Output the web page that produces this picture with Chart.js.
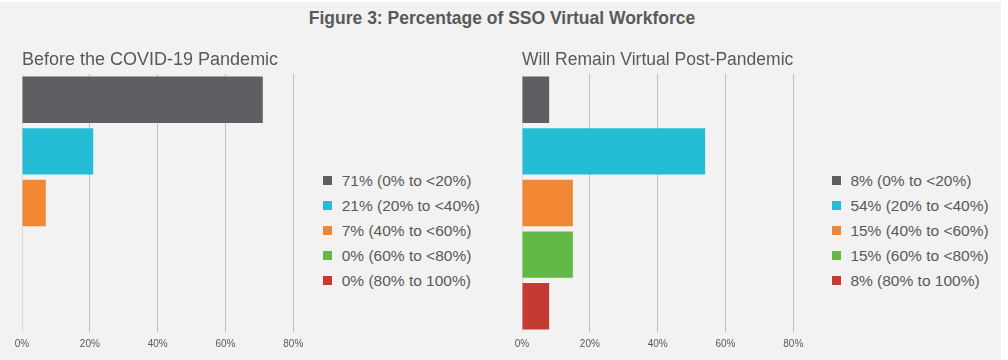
<!DOCTYPE html>
<html>
<head>
<meta charset="utf-8">
<script src="https://cdn.jsdelivr.net/npm/chart.js@4"></script>
<style>
  body { margin: 0; background: #fff; font-family: "Liberation Sans", Arial, sans-serif; }
  #frame { position: absolute; left: 0; top: 2px; width: 1001px; height: 358px; background: #f2f2f2; }
  #title { position: absolute; left: 0; top: 7.5px; width: 1004px; text-align: center; font-weight: bold; font-size: 17.5px; line-height: 20px; color: #595959; }
  canvas { position: absolute; top: 0; }
  .legend { position: absolute; color: #595959; font-size: 15.5px; }
  .legend div { position: relative; height: 25px; line-height: 25px; padding-left: 18.7px; white-space: nowrap; }
  .legend span { position: absolute; left: 0; top: 7.8px; width: 9px; height: 9px; }
</style>
</head>
<body>
<div id="frame"></div>
<div id="title">Figure 3: Percentage of SSO Virtual Workforce</div>
<canvas id="before" width="310" height="360" style="left:0"></canvas>
<canvas id="after" width="310" height="360" style="left:500px"></canvas>
<div class="legend" id="legendBefore" style="left:323px; top:168.4px"></div>
<div class="legend" id="legendAfter" style="left:831.7px; top:168.4px"></div>
<script>
const categories = ['0% to <20%', '20% to <40%', '40% to <60%', '60% to <80%', '80% to 100%'];
const beforeValues = [0.71, 0.21, 0.07, 0, 0];
const afterValues = [0.08, 0.54, 0.15, 0.15, 0.08];
const tickLabels = ['0%', '20%', '40%', '60%', '80%'];
const colors = ['#5e5f63', '#25bdd6', '#f18733', '#62b946', '#c43b33'];

const makeChart = (id, title, values) => {
  return new Chart(document.getElementById(id), {
    type: 'bar',
    data: {
      labels: categories,
      datasets: [{
        data: values,
        backgroundColor: colors,
        barPercentage: 0.9,
        categoryPercentage: 1,
      }]
    },
    options: {
      indexAxis: 'y',
      responsive: false,
      animation: false,
      layout: { padding: { left: 22, right: 16.7, top: 0, bottom: 4 } },
      plugins: {
        legend: { display: false },
        tooltip: { enabled: false },
        title: {
          display: true,
          text: title,
          align: 'start',
          color: '#595959',
          font: { family: '"Liberation Sans", Arial, sans-serif', size: 18, weight: 'normal' },
          padding: { top: 49, bottom: 3.4 },
        },
      },
      scales: {
        y: { display: false },
        x: {
          min: 0,
          max: 0.8,
          border: { display: false },
          grid: {
            drawTicks: false,
            color: (ctx) => ctx.index === 0 ? '#d9d9d9' : '#bfbfbf',
          },
          ticks: {
            stepSize: 0.2,
            padding: 6,
            color: '#595959',
            font: { family: '"Liberation Sans", Arial, sans-serif', size: 10 },
            callback: (v, i) => tickLabels[i],
          },
        },
      },
    },
  });
};

const makeLegend = (id, values) => {
  const box = document.getElementById(id);
  categories.forEach((cat, i) => {
    const row = document.createElement('div');
    row.innerHTML = '<span style="background:' + colors[i] + '"></span>' +
      Math.round(values[i] * 100) + '% (' + cat.replace('<', '&lt;') + ')';
    box.appendChild(row);
  });
};

makeChart('before', 'Before the COVID-19 Pandemic', beforeValues);
makeChart('after', 'Will Remain Virtual Post-Pandemic', afterValues);
makeLegend('legendBefore', beforeValues);
makeLegend('legendAfter', afterValues);
</script>
</body>
</html>
